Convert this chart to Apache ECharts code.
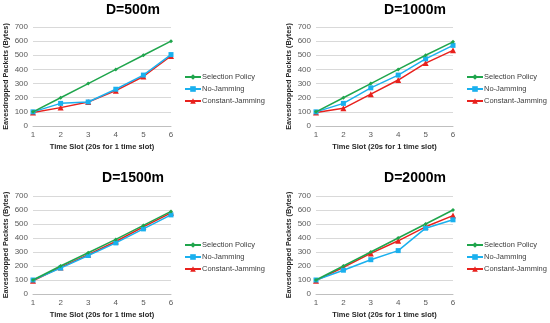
<!DOCTYPE html>
<html><head><meta charset="utf-8">
<script src="https://cdn.jsdelivr.net/npm/echarts@6/dist/echarts.min.js"></script>
<style>html,body{margin:0;padding:0;background:#fff}#c{width:550px;height:323px}</style>
</head><body><div id="c"></div>
<script>
var timeSlots = ['1','2','3','4','5','6'];
var seriesNames = ['Selection Policy','No-Jamming','Constant-Jamming'];
var panelTitles = ['D=500m','D=1000m','D=1500m','D=2000m'];

var sel500  = [100,200,300,400,500,600];
var noj500  = [100,160,170,260,360,505];
var con500  = [95,130,170,250,350,495];

var sel1000 = [100,200,300,400,500,595];
var noj1000 = [100,160,270,360,475,570];
var con1000 = [95,125,225,325,445,535];

var sel1500 = [100,200,295,390,490,590];
var noj1500 = [100,185,275,365,465,565];
var con1500 = [95,190,280,375,480,580];

var sel2000 = [100,200,300,400,500,600];
var noj2000 = [100,170,245,310,470,530];
var con2000 = [95,190,290,380,480,560];

var panelData = [
  [sel500, noj500, con500],
  [sel1000, noj1000, con1000],
  [sel1500, noj1500, con1500],
  [sel2000, noj2000, con2000]
];

var colors = ['#1fa54c','#1ab0ee','#e8211d'];
var symbols = ['diamond','rect','triangle'];
var symSizes = [4,5,6];
var FF = 'Liberation Sans, Arial, sans-serif';

var layout = [
  {left:33, top:27, width:138, height:99, titleX:128, titleY:-2, legX:184, legY:73},
  {left:316, top:27, width:137, height:99, titleX:410, titleY:-2, legX:466, legY:73},
  {left:33, top:196, width:138, height:98, titleX:128, titleY:166, legX:184, legY:241},
  {left:316, top:196, width:137, height:98, titleX:410, titleY:166, legX:466, legY:241}
];

var option = {animation:false, title:[], grid:[], xAxis:[], yAxis:[], legend:[], series:[]};
layout.forEach(function(L, i){
  option.title.push({text:panelTitles[i], left:L.titleX, top:L.titleY, textAlign:'center',
    textStyle:{fontSize:14, fontWeight:'bold', color:'#000', fontFamily:FF}});
  option.grid.push({left:L.left, top:L.top, width:L.width, height:L.height, containLabel:false});
  option.xAxis.push({type:'category', gridIndex:i, data:timeSlots, boundaryGap:false,
    name:'Time Slot (20s for 1 time slot)', nameLocation:'middle', nameGap:17,
    nameTextStyle:{fontSize:7.5, fontWeight:'bold', color:'#262626', fontFamily:FF},
    axisLine:{lineStyle:{color:'#bfbfbf'}}, axisTick:{show:false},
    axisLabel:{fontSize:8, color:'#595959', margin:5, fontFamily:FF}});
  option.yAxis.push({type:'value', gridIndex:i, min:0, max:700, interval:100,
    name:'Eavesdropped Packets (Bytes)', nameLocation:'middle', nameGap:24,
    nameTextStyle:{fontSize:7.3, fontWeight:'bold', color:'#262626', fontFamily:FF},
    axisLine:{show:false}, axisTick:{show:false},
    splitLine:{lineStyle:{color:'#d9d9d9', width:1}},
    axisLabel:{fontSize:8, color:'#595959', margin:5, fontFamily:FF}});
  option.legend.push({orient:'vertical', left:L.legX, top:L.legY, padding:0, itemGap:4, itemWidth:16, itemHeight:7,
    data:seriesNames, textStyle:{fontSize:7.5, color:'#404040', padding:[0,0,0,-4], fontFamily:FF}});
  seriesNames.forEach(function(n, k){
    option.series.push({name:n, type:'line', xAxisIndex:i, yAxisIndex:i, data:panelData[i][k],
      symbol:symbols[k], symbolSize:symSizes[k], showAllSymbol:true,
      lineStyle:{color:colors[k], width:1.5}, itemStyle:{color:colors[k]}, z:3-k});
  });
});
var chart = echarts.init(document.getElementById('c'), null, {renderer:'canvas'});
chart.setOption(option);
</script></body></html>
